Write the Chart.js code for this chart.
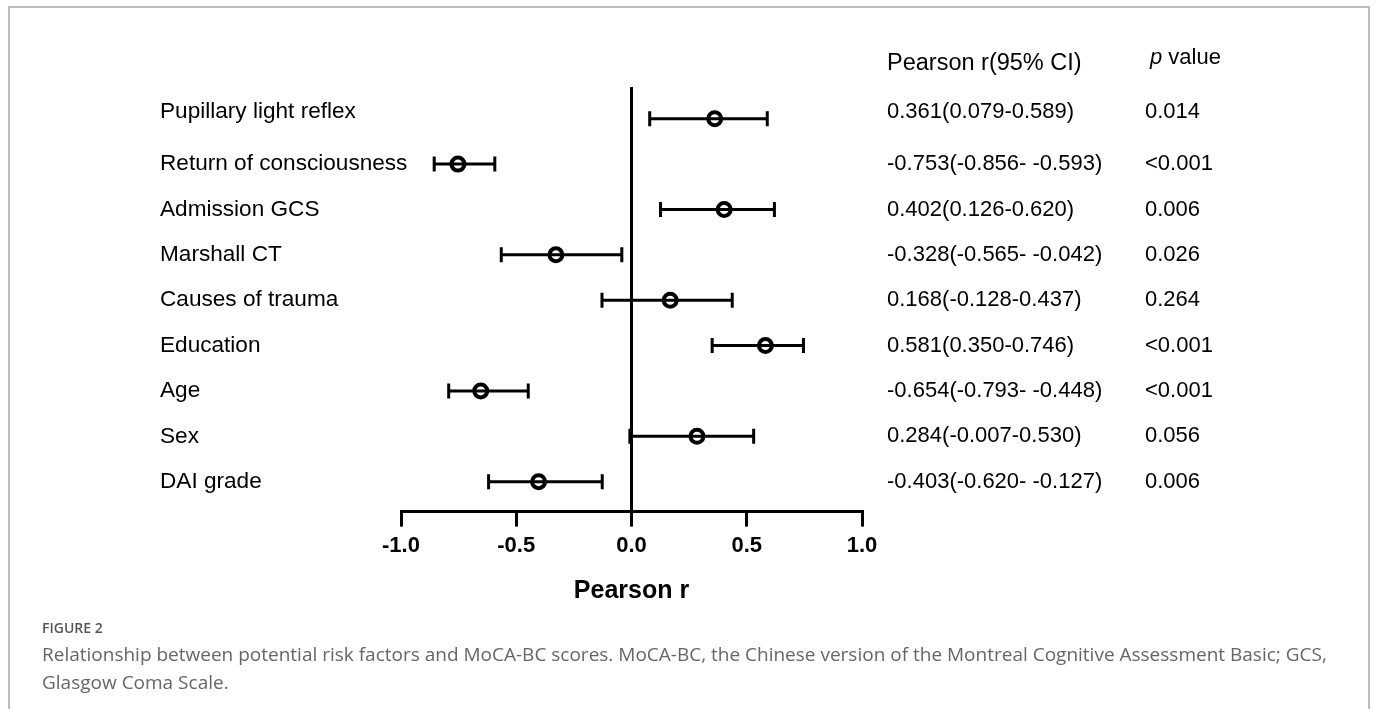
<!DOCTYPE html>
<html>
<head>
<meta charset="utf-8">
<script src="https://cdn.jsdelivr.net/npm/chart.js@4"></script>
<style>
  html, body { margin: 0; padding: 0; background: #fff; }
  #wrap { position: relative; width: 1375px; height: 709px; overflow: hidden; }
  #frame { position: absolute; left: 8px; top: 6px; width: 1362px; height: 760px;
           border: 2px solid #bdbdbd; box-sizing: border-box; }
  #chart { position: absolute; left: 0; top: 0; }
  .fig { position: absolute; left: 42px; top: 618px; font: 600 14px "Open Sans"; color: #555; }
  .cap { position: absolute; left: 42px; top: 640px; font: 19px/28px "Open Sans"; color: #666; }
</style>
</head>
<body>
<div id="wrap">
  <div id="frame"></div>
  <canvas id="chart" width="1375" height="709"></canvas>
  <div class="fig">FIGURE 2</div>
  <div class="cap">Relationship between potential risk factors and MoCA-BC scores. MoCA-BC, the Chinese version of the Montreal Cognitive Assessment Basic; GCS,<br>Glasgow Coma Scale.</div>
</div>
<script>
var factors = ['Pupillary light reflex', 'Return of consciousness', 'Admission GCS', 'Marshall CT',
               'Causes of trauma', 'Education', 'Age', 'Sex', 'DAI grade'];
var pearsonR = [0.361, -0.753, 0.402, -0.328, 0.168, 0.581, -0.654, 0.284, -0.403];
var ciLow = [0.079, -0.856, 0.126, -0.565, -0.128, 0.350, -0.793, -0.007, -0.620];
var ciHigh = [0.589, -0.593, 0.620, -0.042, 0.437, 0.746, -0.448, 0.530, -0.127];
var ciLabels = ['0.361(0.079-0.589)', '-0.753(-0.856- -0.593)', '0.402(0.126-0.620)',
                '-0.328(-0.565- -0.042)', '0.168(-0.128-0.437)', '0.581(0.350-0.746)',
                '-0.654(-0.793- -0.448)', '0.284(-0.007-0.530)', '-0.403(-0.620- -0.127)'];
var pValues = ['0.014', '<0.001', '0.006', '0.026', '0.264', '<0.001', '<0.001', '0.056', '0.006'];
var xTicks = [-1.0, -0.5, 0.0, 0.5, 1.0];

var points = pearsonR.map(function (r, i) { return { x: r, y: i }; });

// whiskers with caps, drawn from the scales
var errorBars = {
    id: 'errorBars',
    beforeDatasetsDraw: function (chart) {
        var ctx = chart.ctx, xs = chart.scales.x, ys = chart.scales.y;
        ctx.save();
        ctx.strokeStyle = '#000';
        ctx.lineWidth = 3;
        for (var i = 0; i < factors.length; i++) {
            var y = ys.getPixelForValue(i);
            var x1 = xs.getPixelForValue(ciLow[i]);
            var x2 = xs.getPixelForValue(ciHigh[i]);
            ctx.beginPath();
            ctx.moveTo(x1, y); ctx.lineTo(x2, y);
            ctx.moveTo(x1, y - 7.5); ctx.lineTo(x1, y + 7.5);
            ctx.moveTo(x2, y - 7.5); ctx.lineTo(x2, y + 7.5);
            ctx.stroke();
        }
        ctx.restore();
    }
};

// row labels and the two text columns
var sideText = {
    id: 'sideText',
    afterDraw: function (chart) {
        var ctx = chart.ctx, ys = chart.scales.y;
        ctx.save();
        ctx.fillStyle = '#000';
        ctx.textBaseline = 'middle';
        ctx.textAlign = 'left';
        for (var i = 0; i < factors.length; i++) {
            var y = ys.getPixelForValue(i);
            if (i === 0) y -= 7; // first row text sits a little higher in the original
            ctx.font = '22.6px "Liberation Sans", Arial';
            ctx.fillText(factors[i], 160, y);
            ctx.font = '22px "Liberation Sans", Arial';
            ctx.fillText(ciLabels[i], 887, y);
            ctx.fillText(pValues[i], 1145, y);
        }
        ctx.font = '23.5px "Liberation Sans", Arial';
        ctx.fillText('Pearson r(95% CI)', 887, 64);
        ctx.font = 'italic 22px "Liberation Sans", Arial';
        ctx.fillText('p', 1150, 58);
        var w = ctx.measureText('p').width;
        ctx.font = '22px "Liberation Sans", Arial';
        ctx.fillText(' value', 1150 + w, 58);
        ctx.restore();
    }
};

var chart = new Chart(document.getElementById('chart'), {
    type: 'scatter',
    data: {
        datasets: [{
            data: points,
            pointRadius: 6.5,
            pointHoverRadius: 6.5,
            pointBorderWidth: 4,
            pointBorderColor: '#000',
            pointBackgroundColor: 'rgba(0,0,0,0)'
        }]
    },
    options: {
        responsive: false,
        animation: false,
        layout: { padding: { left: 401, right: 513, top: 87, bottom: 103 } },
        plugins: { legend: { display: false }, tooltip: { enabled: false } },
        scales: {
            x: {
                type: 'linear',
                min: -1, max: 1,
                afterBuildTicks: function (axis) {
                    axis.ticks = xTicks.map(function (v) { return { value: v }; });
                },
                ticks: {
                    color: '#000',
                    padding: 6,
                    font: { family: '"Liberation Sans", Arial', size: 22, weight: 'bold' },
                    callback: function (v) { return Number(v).toFixed(1); }
                },
                grid: {
                    drawOnChartArea: true,
                    tickLength: 15,
                    lineWidth: 3,
                    tickColor: '#000',
                    color: function (c) { return c.tick && c.tick.value === 0 ? '#000' : 'rgba(0,0,0,0)'; }
                },
                border: { display: true, color: '#000', width: 3 },
                title: {
                    display: true,
                    text: 'Pearson r',
                    color: '#000',
                    padding: { top: 11, bottom: 0 },
                    font: { family: '"Liberation Sans", Arial', size: 25, weight: 'bold' }
                }
            },
            y: {
                type: 'linear',
                reverse: true,
                min: -0.7, max: 8.66,
                display: false
            }
        }
    },
    plugins: [errorBars, sideText]
});
</script>
</body>
</html>
